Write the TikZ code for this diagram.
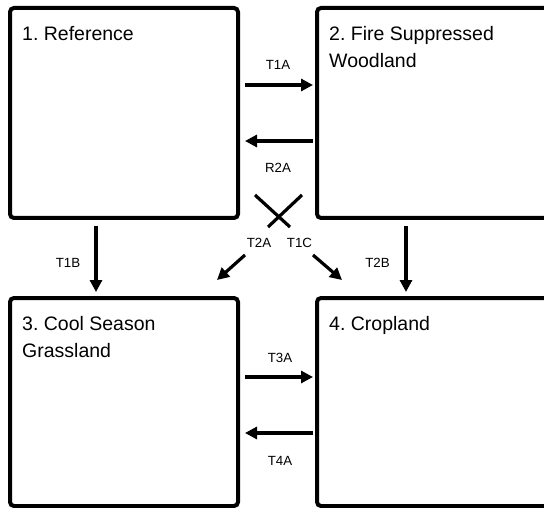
\documentclass[tikz,border=0pt]{standalone}
\usepackage{fontspec}
\setmainfont{Liberation Sans}
\usetikzlibrary{arrows.meta,calc}
\frenchspacing
\tikzset{
  statebox/.style={draw=black, line width=4pt, rounded corners=4pt, rectangle, inner sep=0pt, outer sep=0pt, fill=white},
  titletext/.style={anchor=north west, inner sep=0pt, align=left, font=\fontsize{19.5}{27}\selectfont},
  lbl/.style={inner sep=0pt, font=\fontsize{13.3}{15}\selectfont},
  arr/.style={line width=3.2pt, -{Triangle[length=12pt,width=12pt]}},
  xline/.style={line width=3.2pt}
}
\begin{document}
\begin{tikzpicture}[x=1pt,y=-1pt]
\useasboundingbox (0,0) rectangle (544,508);
% boxes
\node[statebox, minimum width=228pt, minimum height=210pt] (b1) at (124,113) {};
\node[statebox, minimum width=243pt, minimum height=210pt] (b2) at (438.5,113) {};
\node[statebox, minimum width=228pt, minimum height=208pt] (b3) at (124,402) {};
\node[statebox, minimum width=243pt, minimum height=208pt] (b4) at (438.5,402) {};
% titles
\node[titletext] (t1) at (22,26) {1. Reference};
\node[titletext] (t2) at (329,26) {2. Fire Suppressed\\Woodland};
\node[titletext] (t3) at (22,316) {3. Cool Season\\Grassland};
\node[titletext] (t4) at (329,316) {4. Cropland};
% horizontal arrows
\draw[arr] ($(b1.north east)+(7,77)$) -- ($(b2.north west)+(-4,77)$);
\draw[arr] ($(b2.north west)+(-4,133)$) -- ($(b1.north east)+(7,133)$);
\draw[arr] ($(b3.north east)+(7,79)$) -- ($(b4.north west)+(-4,79)$);
\draw[arr] ($(b4.north west)+(-4,135)$) -- ($(b3.north east)+(7,135)$);
% vertical arrows
\draw[arr] ($(b1.south west)+(86,8)$) -- ($(b3.north west)+(86,-6)$);
\draw[arr] ($(b2.south west)+(89,8)$) -- ($(b4.north west)+(89,-6)$);
% crossing
\draw[xline] ($(b1.south east)+(17,-23)$) -- ($(b1.south east)+(52,9)$);
\draw[xline] ($(b2.south west)+(-15,-23)$) -- ($(b2.south west)+(-49,9)$);
\draw[arr] ($(b2.south west)+(-72,37)$) -- ($(b3.north east)+(-21,-18)$);
\draw[arr] ($(b1.south east)+(75,37)$) -- ($(b4.north west)+(25,-18)$);
% labels
\node[lbl] (l1) at (278,65) {T1A};
\node[lbl] (l2) at (278,168) {R2A};
\node[lbl] (l3) at (280,358) {T3A};
\node[lbl] (l4) at (280,461) {T4A};
\node[lbl] (l5) at (68,263) {T1B};
\node[lbl] (l6) at (377.5,263) {T2B};
\node[lbl] (l7) at (259,243) {T2A};
\node[lbl] (l8) at (299.5,243) {T1C};
\end{tikzpicture}
\end{document}
